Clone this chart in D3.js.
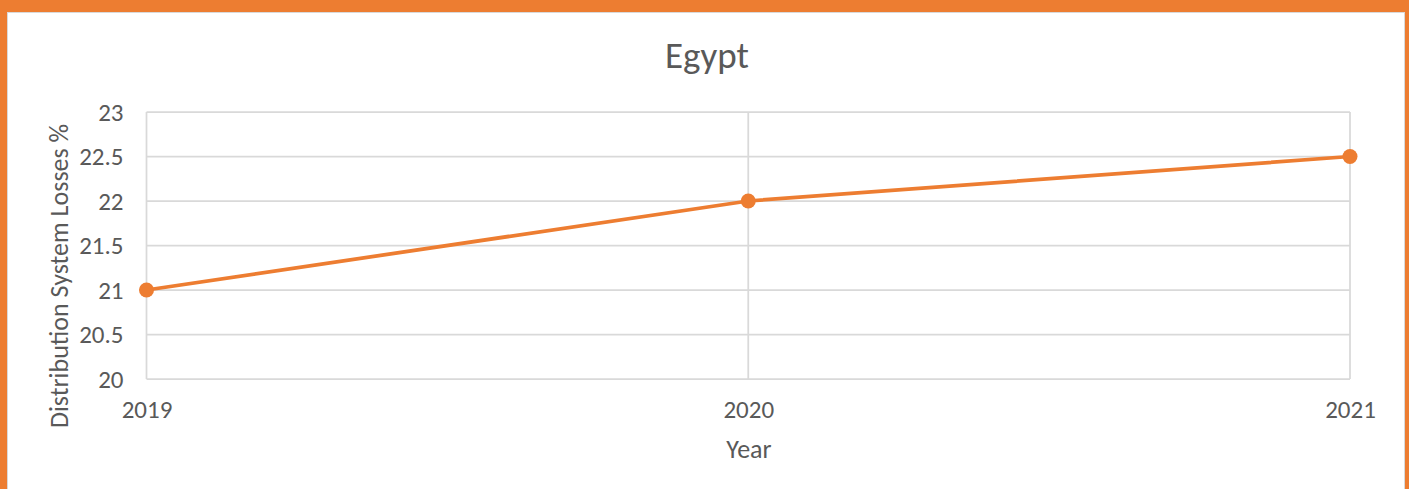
<!DOCTYPE html>
<html>
<head>
<meta charset="utf-8">
<script src="https://cdn.jsdelivr.net/npm/d3@7"></script>
<style>
  html, body { margin: 0; padding: 0; background: #ED7D31; }
  svg { display: block; }
  text { font-family: Carlito, Lato, "Open Sans", sans-serif; fill: #595959; }
</style>
</head>
<body>
<svg id="chart" width="1409" height="489"></svg>
<script>
// Distribution system losses, Egypt
const years = ["2019", "2020", "2021"];
const losses = [21, 22, 22.5];
const yTicks = [20, 20.5, 21, 21.5, 22, 22.5, 23];

const W = 1409, H = 489;
const orange = "#ED7D31";
const grid = "#D9D9D9";
const font = "Carlito, Lato, 'Open Sans', sans-serif";

const svg = d3.select("#chart");

// outer frame
svg.append("rect").attr("x", 0).attr("y", 0).attr("width", W).attr("height", H).attr("fill", orange);
svg.append("rect").attr("x", 7.5).attr("y", 12.5).attr("width", 1397).attr("height", 500)
  .attr("fill", "#fff").attr("stroke", grid).attr("stroke-width", 1);

const plot = { left: 146.5, right: 1350, top: 112, bottom: 379 };

const x = d3.scalePoint().domain(years).range([plot.left, plot.right]);
const y = d3.scaleLinear().domain([20, 23]).range([plot.bottom, plot.top]);

// horizontal gridlines
svg.append("g").selectAll("line").data(yTicks).join("line")
  .attr("x1", plot.left).attr("x2", plot.right)
  .attr("y1", d => y(d)).attr("y2", d => y(d))
  .attr("stroke", grid).attr("stroke-width", 1.75);

// vertical gridlines at each year
svg.append("g").selectAll("line").data(years).join("line")
  .attr("x1", d => x(d)).attr("x2", d => x(d))
  .attr("y1", plot.top).attr("y2", plot.bottom)
  .attr("stroke", grid).attr("stroke-width", 1.75);

// y axis labels
const yAxis = d3.axisLeft(y).tickValues(yTicks).tickSize(0).tickPadding(23).tickFormat(d3.format("~g"));
const gy = svg.append("g").attr("transform", `translate(${plot.left},0)`).call(yAxis);
gy.select(".domain").remove();
gy.selectAll("text").style("font-size", "25px").attr("fill", "#595959").style("font-family", font);

// x axis labels
const xAxis = d3.axisBottom(x).tickSize(0).tickPadding(21);
const gx = svg.append("g").attr("transform", `translate(0,${plot.bottom})`).call(xAxis);
gx.select(".domain").remove();
gx.selectAll("text").style("font-size", "25px").attr("fill", "#595959").style("font-family", font);

// series line
const line = d3.line().x((d, i) => x(years[i])).y(d => y(d));
svg.append("path").datum(losses)
  .attr("d", line).attr("fill", "none")
  .attr("stroke", orange).attr("stroke-width", 3.75).attr("stroke-linejoin", "round");

svg.append("g").selectAll("circle").data(losses).join("circle")
  .attr("cx", (d, i) => x(years[i])).attr("cy", d => y(d)).attr("r", 7.5)
  .attr("fill", orange);

// titles
svg.append("text").attr("x", 707).attr("y", 68).attr("text-anchor", "middle")
  .style("font-size", "37px").text("Egypt");

svg.append("text").attr("x", 749).attr("y", 458).attr("text-anchor", "middle")
  .style("font-size", "26px").text("Year");

svg.append("text").attr("transform", "translate(68,276) rotate(-90)").attr("text-anchor", "middle")
  .style("font-size", "26px").text("Distribution System Losses %");
</script>
</body>
</html>
